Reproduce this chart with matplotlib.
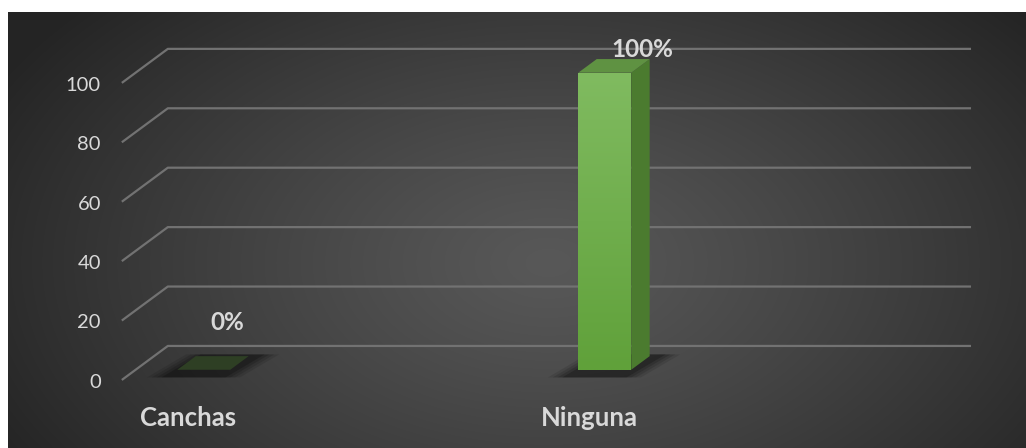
import numpy as np
import matplotlib.pyplot as plt
from matplotlib.patches import Polygon

categories = ['Canchas', 'Ninguna']
values = [0, 100]
value_labels = ['0%', '100%']
yticks = [0, 20, 40, 60, 80, 100]

plt.rcParams['font.family'] = ['Lato', 'DejaVu Sans']

# 3d look: depth offset of the floor (x in category units, y in value units)
DX, DY = 0.1147, 11.45
D0, D1 = 0.3, 0.7          # bar depth range
W = 0.132                  # bar width
XMIN, XMAX = -0.170, 1.833


def proj(x, v, d):
    return (x + d * DX, v + d * DY)


fig = plt.figure(figsize=(10.26, 4.48), dpi=100, facecolor='white')
ax = fig.add_axes([0, 0, 1, 1])
ax.set_xlim(-0.4738, 2.0848)
ax.set_ylim(-22.9, 127.9)
ax.axis('off')

# background radial gradient
h, w = 435, 1018
yy, xx = np.mgrid[0:h, 0:w]
r = np.sqrt(((xx - 540) / 620.0) ** 2 + ((yy - 250) / 380.0) ** 2)
r = np.clip(r, 0, 1)
g = 0.345 + (0.145 - 0.345) * r ** 1.2
img = np.dstack([g, g, g])
ax.imshow(img, extent=[8 / 1026, 1, 0, 1 - 13 / 448], transform=ax.transAxes,
          aspect='auto', zorder=0, interpolation='bilinear')

# grid lines: side wall diagonals + back wall
gcol = '#727272'
for v in yticks:
    x0, y0 = proj(XMIN, v, 0)
    x1, y1 = proj(XMIN, v, 1)
    x2, y2 = proj(XMAX, v, 1)
    ax.plot([x0, x1, x2], [y0, y1, y2], color=gcol, lw=1.6, zorder=1,
            solid_capstyle='butt')
    ax.text(XMIN - 0.052, v - 0.8, str(v), ha='right', va='center', fontsize=14.5,
            color='#d9d9d9', zorder=5)

# bars
for i, v in enumerate(values):
    xl, xr = i - W / 2, i + W / 2
    # shadow
    for k, a in enumerate([0.10, 0.12, 0.15, 0.2]):
        e = 0.05 - k * 0.012
        sh = [proj(xl - e - 0.02, -2, D0 - 0.05), proj(xr + e - 0.02, -2, D0 - 0.05),
              proj(xr + e + 0.02, 0, D1 + 0.05), proj(xl - e + 0.02, 0, D1 + 0.05)]
        ax.add_patch(Polygon(sh, closed=True, facecolor='black', alpha=a,
                             edgecolor='none', zorder=2))
    if v == 0:
        top = [proj(xl, 0, D0), proj(xr, 0, D0), proj(xr, 0, D1), proj(xl, 0, D1)]
        ax.add_patch(Polygon(top, closed=True, facecolor='#2e3f24',
                             edgecolor='none', zorder=3))
    else:
        side = [proj(xr, 0, D0), proj(xr, 0, D1), proj(xr, v, D1), proj(xr, v, D0)]
        ax.add_patch(Polygon(side, closed=True, facecolor='#4b7b2f',
                             edgecolor='none', zorder=3))
        top = [proj(xl, v, D0), proj(xr, v, D0), proj(xr, v, D1), proj(xl, v, D1)]
        ax.add_patch(Polygon(top, closed=True, facecolor='#5f9242',
                             edgecolor='none', zorder=3))
        fx0, fy0 = proj(xl, 0, D0)
        fx1, fy1 = proj(xr, v, D0)
        front = Polygon([(fx0, fy0), (fx1, fy0), (fx1, fy1), (fx0, fy1)],
                        closed=True, facecolor='none', edgecolor='none', zorder=3)
        ax.add_patch(front)
        grad = np.linspace(0, 1, 100)[:, None]
        c_top = np.array([0x80, 0xbb, 0x60]) / 255
        c_bot = np.array([0x60, 0xa1, 0x3a]) / 255
        gimg = c_top[None, None, :] * (1 - grad[..., None]) + c_bot[None, None, :] * grad[..., None]
        im = ax.imshow(gimg, extent=[fx0, fx1, fy0, fy1], aspect='auto',
                       zorder=3, interpolation='bilinear')
        im.set_clip_path(front)

# data labels
label_dx = [0.092, 0.127]
label_dy = [19.2, 11.2]
for i, (v, lab) in enumerate(zip(values, value_labels)):
    ax.text(i + label_dx[i], v + label_dy[i], lab, ha='center', va='center',
            fontsize=17.5, fontweight='bold', color='#d9d9d9', zorder=5)

# category labels
for i, c in enumerate(categories):
    ax.text(i - 0.005, -12.8, c, ha='center', va='center', fontsize=18.5,
            fontweight='bold', color='#d9d9d9', zorder=5)

ax.set_xlim(-0.4738, 2.0848)
ax.set_ylim(-22.9, 127.9)
fig.savefig('out.png', dpi=100, facecolor='white')
